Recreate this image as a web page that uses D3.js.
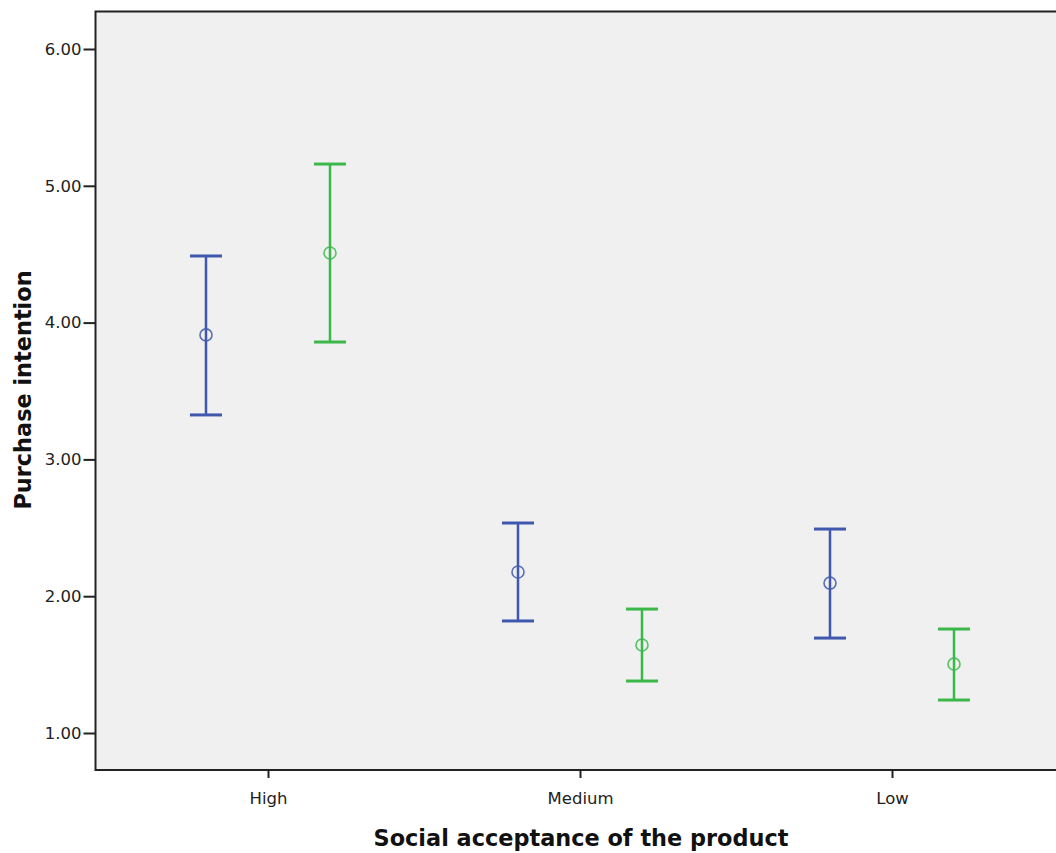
<!DOCTYPE html>
<html>
<head>
<meta charset="utf-8">
<script src="https://cdn.jsdelivr.net/npm/d3@7"></script>
<style>
  html, body { margin: 0; padding: 0; background: #ffffff; }
  svg { display: block; }
</style>
</head>
<body>
<svg id="chart" width="1056" height="853"></svg>
<script>
// ---- data ----
const categories = ["High", "Medium", "Low"];
const seriesNames = ["Group 1", "Group 2"];
const group1Mean  = [3.91, 2.177, 2.096];
const group1Upper = [4.487, 2.535, 2.491];
const group1Lower = [3.325, 1.819, 1.694];
const group2Mean  = [4.509, 1.643, 1.504];
const group2Upper = [5.159, 1.906, 1.760];
const group2Lower = [3.858, 1.380, 1.241];
const yTicks = [1, 2, 3, 4, 5, 6];
const xTitle = "Social acceptance of the product";
const yTitle = "Purchase intention";

const seriesColors = ["#3f58ad", "#3ab84a"];

const series = [
  { name: seriesNames[0], mean: group1Mean, upper: group1Upper, lower: group1Lower },
  { name: seriesNames[1], mean: group2Mean, upper: group2Upper, lower: group2Lower }
];

// ---- layout ----
const svg = d3.select("#chart");
const plot = { left: 95.5, top: 11.5, right: 1060, bottom: 770 };

const x = d3.scalePoint().domain(categories).range([268, 892]);
const xOff = d3.scalePoint().domain(seriesNames).range([-62, 62]);
const y = d3.scaleLinear().domain([1, 6]).range([733, 49]);

// plot background
svg.append("rect")
  .attr("x", plot.left).attr("y", plot.top)
  .attr("width", plot.right - plot.left).attr("height", plot.bottom - plot.top)
  .attr("fill", "#f0f0f0");

// error bars
series.forEach((s, si) => {
  const g = svg.append("g").attr("class", "series");
  const col = seriesColors[si];
  categories.forEach((c, i) => {
    const cx = x(c) + xOff(s.name);
    g.append("line")
      .attr("x1", cx).attr("x2", cx)
      .attr("y1", y(s.upper[i])).attr("y2", y(s.lower[i]))
      .attr("stroke", col).attr("stroke-width", 2.5);
    [s.upper[i], s.lower[i]].forEach(v => {
      g.append("line")
        .attr("x1", cx - 16).attr("x2", cx + 16)
        .attr("y1", y(v)).attr("y2", y(v))
        .attr("stroke", col).attr("stroke-width", 3);
    });
    g.append("circle")
      .attr("cx", cx).attr("cy", y(s.mean[i])).attr("r", 6)
      .attr("fill", "none").attr("stroke", col).attr("stroke-width", 1.6)
      .attr("stroke-opacity", 0.85);
  });
});

// frame
svg.append("path")
  .attr("d", `M${plot.right},${plot.top}H${plot.left}V${plot.bottom}H${plot.right}`)
  .attr("fill", "none").attr("stroke", "#222").attr("stroke-width", 2);

const tickFont = "'DejaVu Sans', sans-serif";

// y axis
const yAxis = d3.axisLeft(y).tickValues(yTicks).tickFormat(d3.format(".2f"))
  .tickSize(12).tickPadding(2);
const yg = svg.append("g").attr("transform", `translate(${plot.left},0)`).call(yAxis);
yg.select(".domain").remove();
yg.selectAll(".tick line").attr("stroke", "#222").attr("stroke-width", 2);
yg.selectAll(".tick text").attr("fill", "#222")
  .style("font-family", tickFont).style("font-size", "16.5px");

// x axis
const xAxis = d3.axisBottom(x).tickSize(8).tickPadding(14);
const xg = svg.append("g").attr("transform", `translate(0,${plot.bottom})`).call(xAxis);
xg.select(".domain").remove();
xg.selectAll(".tick line").attr("stroke", "#222").attr("stroke-width", 2);
xg.selectAll(".tick text").attr("fill", "#222")
  .style("font-family", tickFont).style("font-size", "16.5px");

// titles
svg.append("text")
  .attr("x", 581).attr("y", 846)
  .attr("text-anchor", "middle")
  .style("font-family", "'DejaVu Sans', sans-serif")
  .style("font-weight", "bold").style("font-size", "22.4px")
  .attr("fill", "#111")
  .text(xTitle);

svg.append("text")
  .attr("transform", "translate(31,390) rotate(-90)")
  .attr("text-anchor", "middle")
  .style("font-family", "'DejaVu Sans', sans-serif")
  .style("font-weight", "bold").style("font-size", "22.4px")
  .attr("fill", "#111")
  .text(yTitle);
</script>
</body>
</html>
